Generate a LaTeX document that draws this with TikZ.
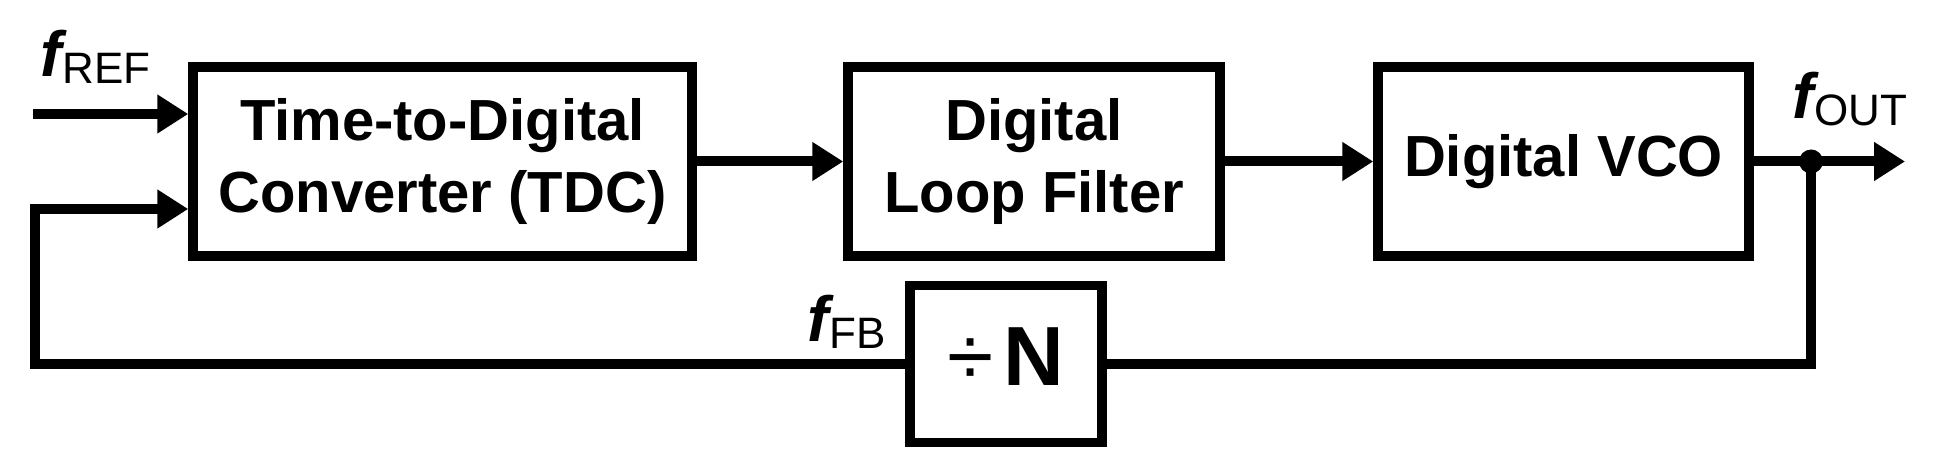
\documentclass[tikz,border=0pt]{standalone}
\usepackage{fontspec}
\setmainfont{Liberation Sans}
\usetikzlibrary{arrows.meta}
\newcommand\freqlab[1]{{\fontsize{32}{32}\selectfont\bfseries\itshape f}\kern0.5pt\raisebox{-3.5pt}{\fontsize{22}{22}\selectfont #1}}
\begin{document}
\begin{tikzpicture}[x=0.5pt,y=-0.5pt,
  blk/.style={draw, line width=4.75pt, inner sep=0pt, align=center,
    font=\fontsize{29}{36}\selectfont\bfseries},
  conn/.style={line width=5pt},
  arr/.style={conn, -{Triangle[length=15.5pt,width=18.5pt]}},
  lab/.style={anchor=base west, inner sep=0pt}]
\useasboundingbox (0,0) rectangle (1942,470);
\node[blk, minimum width=249.5pt, minimum height=94.5pt] (tdc) at (442.5,161.5) {Time-to-Digital\\Converter (TDC)\rule[-4pt]{0pt}{4pt}};
\node[blk, minimum width=186pt, minimum height=94.5pt] (dlf) at (1034,161.5) {Digital\\Loop Filter\rule[-4pt]{0pt}{4pt}};
\node[blk, minimum width=185.5pt, minimum height=94.5pt] (vco) at (1563.5,161.5) {Digital VCO\rule[-4.5pt]{0pt}{4.5pt}};
\node[blk, minimum width=96pt, minimum height=78.5pt] (div) at (1006,364) {{\fontsize{42}{42}\selectfont\mdseries ÷}\kern5pt{\fontsize{42}{42}\selectfont N}\rule[-7pt]{0pt}{7pt}};
\node[circle, fill, inner sep=0pt, minimum size=12pt] (dot) at (1811,161.5) {};
\coordinate (refin) at (33,114);
\coordinate (fbcorner) at (35,209);
\coordinate (outend) at (1905,161.5);
\draw[arr] (refin) -- (refin -| tdc.west);
\draw[arr] (tdc.east) -- (dlf.west);
\draw[arr] (dlf.east) -- (vco.west);
\draw[arr] (vco.east) -- (outend);
\draw[conn] (dot.center) |- (div.east);
\draw[arr] (div.west) -| (fbcorner) -- (fbcorner -| tdc.west);
\node[lab] (lref) at (40,77) {\freqlab{REF}};
\node[lab] (lout) at (1792,119) {\freqlab{OUT}};
\node[lab] (lfb) at (807,341) {\freqlab{FB}};
\end{tikzpicture}
\end{document}
